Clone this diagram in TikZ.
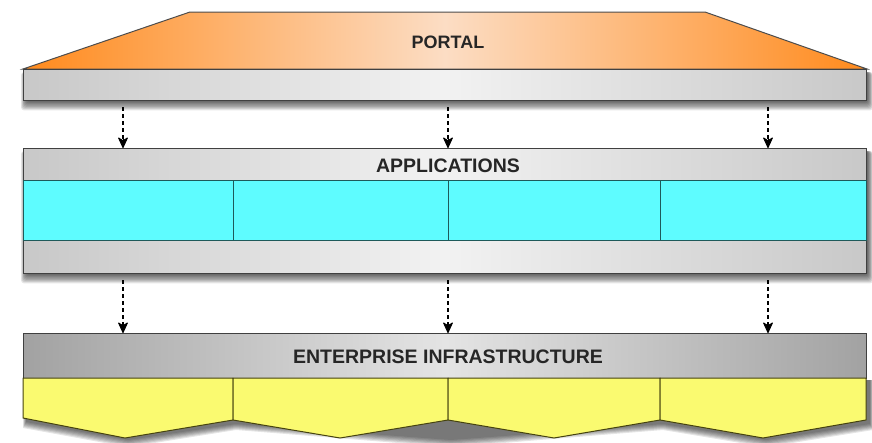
\documentclass[tikz,border=0pt]{standalone}
\usepackage{fontspec}
\setmainfont{Liberation Sans}
\usetikzlibrary{arrows.meta}
\definecolor{orangeD}{HTML}{FF8A1C}
\definecolor{orangeL}{HTML}{FCDDC4}
\definecolor{grayD}{HTML}{C8C8C8}
\definecolor{grayL}{HTML}{F2F2F2}
\definecolor{grayED}{HTML}{A2A2A2}
\definecolor{grayEL}{HTML}{E4E4E4}
\definecolor{cyanF}{HTML}{5EFCFF}
\definecolor{cyanB}{HTML}{1E5A5A}
\definecolor{yelF}{HTML}{FAFA70}
\definecolor{yelB}{HTML}{45420F}
\newcommand\barshade[4]{% x1 y1 x2 y2 (pixel coords, y down)
  \foreach \i in {0,...,7}{
    \fill[black, opacity=0.1, rounded corners=3pt]
      ({#1+3-\i*0.7},{#2+3}) rectangle ({#3+2+\i*0.7},{#4+2+\i*1.2});
  }}
\tikzset{
  bar/.style={rectangle, anchor=north west, inner sep=0pt, draw=black!75, line width=1pt,
    left color=grayD, right color=grayD, middle color=grayL},
  cell/.style={rectangle, anchor=north west, inner sep=0pt, minimum height=60pt, fill=cyanF, draw=cyanB, line width=1pt},
  chev/.style={fill=yelF, draw=yelB, line width=1pt, line join=round},
  arr/.style={dash pattern=on 4pt off 3pt, line width=1.2pt, shorten <=6pt, shorten >=8pt,
    postaction={draw=black, solid, line width=1pt, shorten <=#1, shorten >=0pt,
      -{Stealth[length=12pt,width=11pt,inset=3.5pt,round]}}},
  lbl/.style={text=black!85}
}
\begin{document}
\begin{tikzpicture}[x=1pt,y=-1pt]
\useasboundingbox (0,0) rectangle (872,442);
% Portal trapezoid
\shade[left color=orangeD, right color=orangeD, middle color=orangeL, draw=black!70, line width=1pt]
  (23,69) -- (190,12) -- (705,12) -- (867,69) -- cycle;
\node[lbl, font=\bfseries\fontsize{18}{18}\selectfont] (portal) at (448,42) {PORTAL};
\barshade{23}{69}{866}{100}
\node[bar, minimum width=843pt, minimum height=31pt] (portalbar) at (23,69) {};
% Applications
\barshade{23}{148}{866}{273}
\node[bar, minimum width=843pt, minimum height=125pt] (apps) at (23,148) {};
\node[lbl, font=\bfseries\fontsize{19.5}{19.5}\selectfont] (appslbl) at (448,166) {APPLICATIONS};
\node[cell, minimum width=210pt] (a1) at (23,180) {};
\node[cell, minimum width=215pt] (a2) at (233,180) {};
\node[cell, minimum width=212pt] (a3) at (448,180) {};
\node[cell, minimum width=206pt] (a4) at (660,180) {};
% Enterprise
\foreach \i in {0,...,6}{
  \fill[black, opacity=0.1]
    ({26-\i*0.5},380) -- ({26-\i*0.5},{422+\i}) -- (128,{440+\i*1.2}) -- (236,{424+\i}) -- (451,{440+\i*1.2}) -- (663,{424+\i}) -- (766,{440+\i*1.2}) -- ({870+\i*0.5},{424+\i}) -- ({870+\i*0.5},380) -- cycle;
}
\node[bar, minimum width=843pt, minimum height=45pt, left color=grayED, right color=grayED, middle color=grayEL] (ent) at (23,333) {};
\node[lbl, font=\bfseries\fontsize{19.5}{19.5}\selectfont] (entlbl) at (448,357) {ENTERPRISE INFRASTRUCTURE};
\path[chev] (23,378) -- (233,378) -- (233,420) -- (125,438) -- (23,418) -- cycle;
\path[chev] (233,378) -- (448,378) -- (448,420) -- (340,438) -- (233,420) -- cycle;
\path[chev] (448,378) -- (660,378) -- (660,420) -- (554,438) -- (448,420) -- cycle;
\path[chev] (660,378) -- (866,378) -- (866,420) -- (763,438) -- (660,420) -- cycle;
% Arrow columns
\coordinate (c1) at (123,0);
\coordinate (c2) at (448,0);
\coordinate (c3) at (768,0);
\foreach \c in {c1,c2,c3}{
  \draw[arr=38pt] (portalbar.south -| \c) -- (apps.north -| \c);
  \draw[arr=49pt] (apps.south -| \c) -- (ent.north -| \c);
}
\end{tikzpicture}
\end{document}
